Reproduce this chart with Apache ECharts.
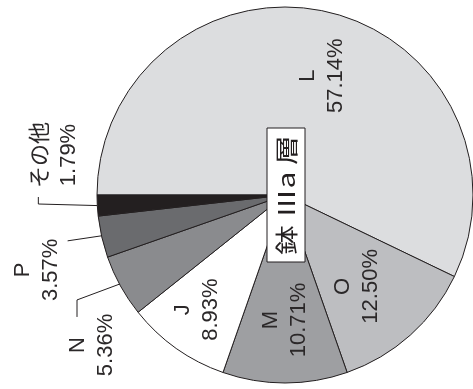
<!DOCTYPE html>
<html>
<head>
<meta charset="utf-8">
<script src="https://cdn.jsdelivr.net/npm/echarts@6/dist/echarts.min.js"></script>
<style>
  html, body {margin: 0; padding: 0; background: #fff;}
  #chart {width: 473px; height: 389px;}
</style>
</head>
<body>
<div id="chart"></div>
<script>
// 鉢 Ⅲa層 の内訳
let names = ['L', 'O', 'M', 'J', 'N', 'P', 'その他'];
let percents = [57.14, 12.50, 10.71, 8.93, 5.36, 3.57, 1.79];
let colors = ['#dcdddf', '#bdbec1', '#9e9fa2', '#ffffff', '#8a8b8e', '#6a6b6e', '#231f20'];
let boxText = '鉢 Ⅲa 層';

let cx = 285, cy = 195, R = 188;
let ink = '#231f20';

// [radius factor, angle shift (deg), leader line offsets from label, line start factor]
let labelPlace = [
  [0.665, -4.5],
  [0.62, -3.4],
  [0.665, 0],
  [0.77, -2.3],
  [1.30, 8.9, [[-15, -45], [-15, -28]], 0.925],
  [1.38, 3.9, [[31, -29], [31, -29]], 0.925],
  [1.24, -13.1, [[-17, 49], [-17, 42]], 1.0]
];

let total = percents.reduce(function (a, b) { return a + b; }, 0);
let mids = [];
let acc = 0;
percents.forEach(function (v) {
  mids.push(180 - (acc + v / 2) / total * 360);
  acc += v;
});

function polar(r, deg) {
  let a = deg * Math.PI / 180;
  return [cx + r * Math.cos(a), cy - r * Math.sin(a)];
}

let data = names.map(function (n, i) {
  return {
    name: n,
    value: percents[i],
    itemStyle: {color: colors[i]},
    labelLine: {show: !!labelPlace[i][2]}
  };
});

let chart = echarts.init(document.getElementById('chart'));
chart.setOption({
  animation: false,
  series: [{
    type: 'pie',
    center: [cx, cy],
    radius: [0, R],
    startAngle: 180,
    clockwise: true,
    avoidLabelOverlap: false,
    itemStyle: {borderColor: ink, borderWidth: 1},
    label: {
      show: true,
      position: 'outside',
      rotate: 90,
      formatter: function (p) {
        return p.name + '\n' + p.value.toFixed(2) + '%';
      },
      fontFamily: 'Liberation Sans, Noto Sans CJK JP',
      fontSize: 22,
      lineHeight: 28,
      color: '#2b2829'
    },
    labelLine: {lineStyle: {color: ink, width: 1}},
    emphasis: {disabled: true},
    labelLayout: function (params) {
      let i = params.dataIndex;
      let p = labelPlace[i];
      let pos = polar(R * p[0], mids[i] + p[1]);
      let res = {x: pos[0], y: pos[1], align: 'center', verticalAlign: 'middle', rotate: 90};
      if (p[2]) {
        res.labelLinePoints = [
          polar(R * p[3], mids[i]),
          [pos[0] + p[2][0][0], pos[1] + p[2][0][1]],
          [pos[0] + p[2][1][0], pos[1] + p[2][1][1]]
        ];
      }
      return res;
    },
    data: data
  }],
  graphic: [{
    type: 'group',
    x: cx + 1,
    y: cy,
    z: 100,
    rotation: Math.PI / 2,
    children: [{
      type: 'rect',
      z: 100,
      shape: {x: -67, y: -19, width: 134, height: 38},
      style: {fill: '#fff', stroke: ink, lineWidth: 1}
    }, {
      type: 'text',
      z: 101,
      x: 0,
      y: 0,
      scaleX: 1.3,
      style: {
        text: boxText,
        fontFamily: 'Noto Sans CJK JP',
        fontSize: 23,
        fill: ink,
        align: 'center',
        verticalAlign: 'middle'
      }
    }]
  }]
});
</script>
</body>
</html>
